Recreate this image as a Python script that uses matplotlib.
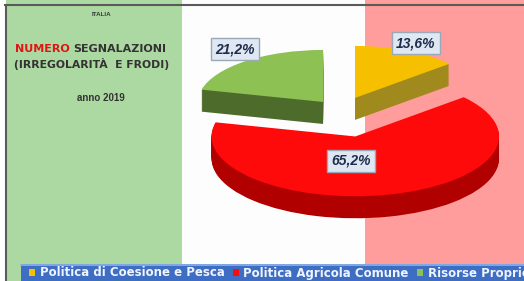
import matplotlib
matplotlib.use("Agg")
import matplotlib.pyplot as plt
import numpy as np

# ---- data ----
categories = ["Politica di Coesione e Pesca", "Politica Agricola Comune", "Risorse Proprie"]
values = [13.6, 65.2, 21.2]
value_labels = ["13,6%", "65,2%", "21,2%"]
top_colors = ["#f6c000", "#ff0a0a", "#8dc153"]
side_colors = ["#a08a1e", "#b00000", "#4d6b2b"]
explode = [0.28, 0.5, 0.226]

W, H = 524, 281
fig = plt.figure(figsize=(W / 100, H / 100), dpi=100)

# ---- background (flag bands + frame) ----
bg = fig.add_axes([0, 0, 1, 1])
bg.set_xlim(0, W)
bg.set_ylim(H, 0)
bg.axis("off")
bg.axvspan(0, W, color="white", zorder=0)
bg.axvspan(6, 182, color="#acd9a1", zorder=1, lw=0)
bg.axvspan(182, 365, color="#fdfdfd", zorder=1, lw=0)
bg.axvspan(365, W, color="#ff9c9c", zorder=1, lw=0)
bg.plot([5, W], [4.5, 4.5], color="#5a5a5a", lw=1.5, zorder=2)
bg.plot([5.5, 5.5], [4.5, H], color="#5a5a5a", lw=1.5, zorder=2)
# legend bar
bg.axhspan(264, H, xmin=21 / W, xmax=1, facecolor="#3d6ec4", lw=0, zorder=5)
bg.plot([21, W], [264.5, 264.5], color="#8fb3ea", lw=1.2, zorder=6)

# ---- left title block ----
fam = ["DejaVu Sans"]
fam2 = ["Liberation Sans", "DejaVu Sans"]
bg.text(101, 14, "ITALIA", ha="center", va="center", fontsize=4.5, fontweight="bold",
        color="#3a3a3a", family=fam2, zorder=3)
t1 = bg.text(15, 49, "NUMERO ", ha="left", va="center", fontsize=8, fontweight="bold",
             color="#e01515", family=fam, zorder=3)
bg.annotate("SEGNALAZIONI", xycoords=t1, xy=(1, 0.5), va="center", ha="left",
            fontsize=8, fontweight="bold", color="#333333", family=fam, zorder=3)
bg.text(92, 64, "(IRREGOLARITÀ  E FRODI)", ha="center", va="center", fontsize=7.8,
        fontweight="bold", color="#333333", family=fam, zorder=3)
bg.text(101, 98, "anno 2019", ha="center", va="center", fontsize=7, fontweight="bold",
        color="#333333", family=fam2, zorder=3)

# ---- 3D-like pie ----
cx, cy = 340.5, 111.2      # pie centre in pixels
rx, ry = 125.0, 52.0       # pixels per data unit
depth_px = 22
red_scale = 1.15

ax = fig.add_axes([0, 0, 1, 1])
ax.patch.set_alpha(0)
top_wedges = None
n_layers = depth_px
for k in range(n_layers, -1, -1):
    d = k / ry
    cols = side_colors if k > 0 else top_colors
    wedges, _ = ax.pie(values, explode=explode, colors=cols, startangle=90,
                       counterclock=False, center=(0, -d),
                       wedgeprops=dict(linewidth=0))
    for i, w in enumerate(wedges):
        if i == 1:
            w.set_radius(red_scale)
            w.set_zorder(200 + (n_layers - k))
        else:
            w.set_zorder(100 + (n_layers - k))
    if k == 0:
        top_wedges = wedges
ax.set_aspect("auto")
ax.set_xlim((0 - cx) / rx, (W - cx) / rx)
ax.set_ylim((cy - H) / ry, cy / ry)
ax.axis("off")

# ---- value labels ----
label_pos_px = [(416, 43), (351, 161), (235, 49)]
for (px, py), txt in zip(label_pos_px, value_labels):
    ax.text((px - cx) / rx, (cy - py) / ry, txt, ha="center", va="center",
            fontsize=10, fontweight="bold", fontstyle="italic", color="#1f2d4d",
            family=fam2, zorder=400,
            bbox=dict(boxstyle="square,pad=0.3", facecolor="#dfe8f2",
                      edgecolor="#9aa8b8", linewidth=1))

# ---- legend ----
leg = fig.legend(top_wedges, categories, ncol=3, loc="center left",
                 bbox_to_anchor=(29 / W, 1 - 273 / H), frameon=False,
                 handlelength=0.5, handleheight=0.5, handletextpad=0.4,
                 columnspacing=0.7, borderpad=0, borderaxespad=0,
                 prop=dict(family="DejaVu Sans", weight="bold", size=8.5),
                 labelcolor="#f0f4ff")
leg.set_zorder(10)

fig.savefig("out.png", dpi=100)
